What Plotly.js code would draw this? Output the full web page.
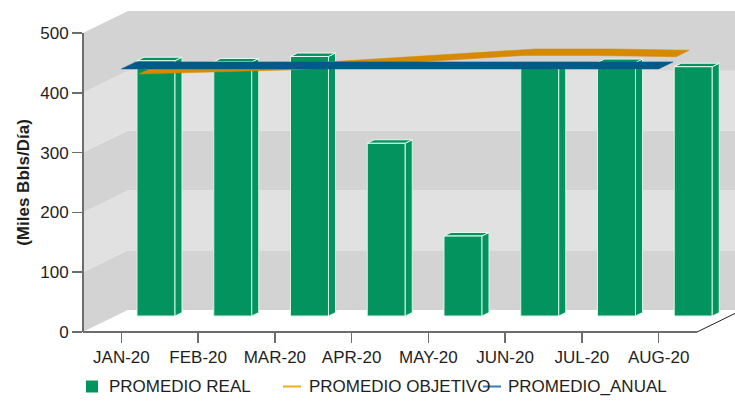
<!DOCTYPE html>
<html>
<head>
<meta charset="utf-8">
<script src="https://cdn.plot.ly/plotly-3.0.1.min.js"></script>
<style>html,body{margin:0;padding:0;background:#fff;}#chart{width:735px;height:401px;}</style>
</head>
<body>
<div id="chart"></div>
<script>
// ---- data ----
const months = ['JAN-20','FEB-20','MAR-20','APR-20','MAY-20','JUN-20','JUL-20','AUG-20'];
const promedioReal = [427, 425, 434, 289, 134, 416, 424, 417];
const promedioObjetivo = [417, 420, 424, 432, 440, 448, 448, 446];
const promedioAnual = [440, 440, 440, 440, 440, 440, 440, 440];
const yTicks = [0, 100, 200, 300, 400, 500];

// ---- pseudo-3D geometry (axis units) ----
const DEPTH_X = 0.5863, DEPTH_Y = 36.79;   // full depth offset of back wall
const BAR_XOFF = 0.451, BAR_BASE = 26.76, BAR_W = 0.495, BAR_SX = 0.0912, BAR_SY = 5.7;
const BLUE = {xo: 0.0, yo: 0.0, tx: 0.189, ty: 11.7};
const ORANGE = {xo: 0.23, yo: 14.4, tx: 0.169, ty: 10.9};

const GREEN = '#02935f', EDGE = 'rgba(215,245,230,1)';
const font = 'Liberation Sans, Arial, Helvetica, sans-serif';
const txt = '#1e1e1e', axc = '#6d6d6d';

const idx = months.map((m, i) => i);

// bar front faces
const barTrace = {
  type: 'bar', x: idx.map(i => i + BAR_XOFF), y: promedioReal,
  base: promedioReal.map(() => BAR_BASE), width: BAR_W,
  marker: {color: GREEN, line: {color: EDGE, width: 1}},
  hoverinfo: 'skip', showlegend: false
};

// side & top faces
const sx = [], sy = [], tx = [], ty = [];
promedioReal.forEach((v, i) => {
  const xl = i + BAR_XOFF - BAR_W / 2, xr = i + BAR_XOFF + BAR_W / 2;
  const b = BAR_BASE, t = BAR_BASE + v;
  sx.push(xr, xr + BAR_SX, xr + BAR_SX, xr, xr, null);
  sy.push(b, b + BAR_SY, t + BAR_SY, t, b, null);
  tx.push(xl, xr, xr + BAR_SX, xl + BAR_SX, xl, null);
  ty.push(t, t, t + BAR_SY, t + BAR_SY, t, null);
});
const sideTrace = {type: 'scatter', mode: 'lines', x: sx, y: sy, fill: 'toself',
  fillcolor: GREEN, line: {color: EDGE, width: 1}, hoverinfo: 'skip', showlegend: false};
const topTrace = {type: 'scatter', mode: 'lines', x: tx, y: ty, fill: 'toself',
  fillcolor: GREEN, line: {color: '#eafaf2', width: 1}, hoverinfo: 'skip', showlegend: false};

function ribbon(vals, g, color) {
  const fx = idx.map(i => i + g.xo), fy = vals.map(v => v + g.yo);
  const bx = fx.map(x => x + g.tx).reverse(), by = fy.map(y => y + g.ty).reverse();
  return {type: 'scatter', mode: 'lines', x: fx.concat(bx, [fx[0]]), y: fy.concat(by, [fy[0]]),
    fill: 'toself', fillcolor: color, line: {color: color, width: 0.5},
    hoverinfo: 'skip', showlegend: false};
}
const orangeTrace = ribbon(promedioObjetivo, ORANGE, '#d68a00');
const blueTrace = ribbon(promedioAnual, BLUE, '#025a88');

// walls
const shapes = [];
const DARK = '#d3d3d3', LIGHT = '#e1e1e1';
for (let k = 0; k < 5; k++) {
  const c = (k % 2 === 0) ? DARK : LIGHT;
  const y0 = yTicks[k], y1 = yTicks[k + 1];
  shapes.push({type: 'rect', xref: 'x', yref: 'y', layer: 'below', x0: -0.5 + DEPTH_X, x1: 9,
    y0: y0 + DEPTH_Y, y1: y1 + DEPTH_Y, fillcolor: c, line: {width: 0}});
  shapes.push({type: 'path', xref: 'x', yref: 'y', layer: 'below',
    path: `M -0.5,${y0} L ${-0.5 + DEPTH_X},${y0 + DEPTH_Y} L ${-0.5 + DEPTH_X},${y1 + DEPTH_Y} L -0.5,${y1} Z`,
    fillcolor: c, line: {width: 0}});
}
// floor (white)
shapes.push({type: 'path', xref: 'x', yref: 'y', layer: 'below',
  path: `M -0.5,0 L 7.5,0 L ${7.5 + DEPTH_X},${DEPTH_Y} L ${-0.5 + DEPTH_X},${DEPTH_Y} Z`,
  fillcolor: '#ffffff', line: {width: 0}});
// axis lines
shapes.push({type: 'line', xref: 'x', yref: 'y', x0: -0.5, x1: 7.5, y0: 0, y1: 0, line: {color: axc, width: 2}});
shapes.push({type: 'line', xref: 'paper', yref: 'y', x0: 0, x1: 0, y0: 0, y1: 500, line: {color: axc, width: 2}});
shapes.push({type: 'line', xref: 'x', yref: 'y', x0: 7.5, x1: 7.5 + DEPTH_X, y0: 0, y1: DEPTH_Y, line: {color: '#222', width: 1}});

// legend (paper coords: plot area x 83..735, y 0..365 px)
const PW = 652, PH = 365;
const px = p => (p - 83) / PW, py = p => (PH - p) / PH;
const LY = 386.5;
shapes.push({type: 'rect', xref: 'paper', yref: 'paper', x0: px(86), x1: px(98), y0: py(392.5), y1: py(380.5), fillcolor: GREEN, line: {width: 0}});
shapes.push({type: 'line', xref: 'paper', yref: 'paper', x0: px(283), x1: px(301), y0: py(LY), y1: py(LY), line: {color: '#f2a81d', width: 2}});
shapes.push({type: 'line', xref: 'paper', yref: 'paper', x0: px(483), x1: px(501), y0: py(LY), y1: py(LY), line: {color: '#2f7fb8', width: 2}});
const legendNames = ['PROMEDIO REAL', 'PROMEDIO OBJETIVO', 'PROMEDIO_ANUAL'];
const legendX = [107, 307, 506];
const annotations = legendNames.map((n, i) => ({
  xref: 'paper', yref: 'paper', x: px(legendX[i]), y: py(LY), xanchor: 'left', yanchor: 'middle',
  text: n, showarrow: false, font: {family: font, size: 17, color: txt}
}));

const layout = {
  width: 735, height: 401,
  margin: {l: 83, r: 0, t: 0, b: 36, pad: 0},
  paper_bgcolor: '#ffffff', plot_bgcolor: '#ffffff',
  font: {family: font, size: 17, color: txt},
  bargap: 0,
  xaxis: {range: [-0.5, 7.995], tickmode: 'array', tickvals: idx, ticktext: months,
    ticks: 'outside', ticklen: 10, tickwidth: 1.5, tickcolor: axc,
    showgrid: false, zeroline: false, showline: false, anchor: 'free', position: 33 / 365,
    tickfont: {family: font, size: 17, color: txt}, fixedrange: true},
  yaxis: {range: [-55.18, 555.18], tickmode: 'array', tickvals: yTicks,
    ticks: 'outside', ticklen: 10, tickwidth: 1.5, tickcolor: axc,
    showgrid: false, zeroline: false, showline: false,
    tickfont: {family: font, size: 17, color: txt}, fixedrange: true,
    title: {text: '(Miles Bbls/Día)', font: {family: font, size: 17, color: txt, weight: 'bold'}, standoff: 6}},
  shapes: shapes,
  annotations: annotations,
  showlegend: false
};

Plotly.newPlot('chart', [barTrace, sideTrace, topTrace, orangeTrace, blueTrace], layout, {displayModeBar: false, staticPlot: true});
</script>
</body>
</html>
